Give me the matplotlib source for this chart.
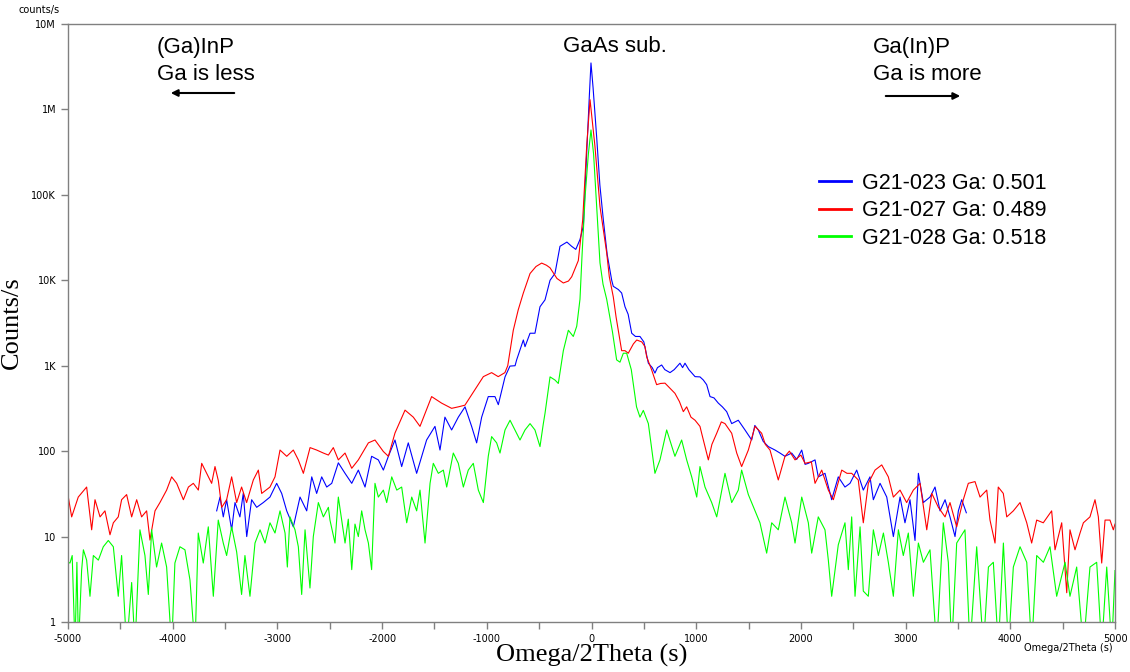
import numpy as np
import matplotlib
matplotlib.use("Agg")
import matplotlib.pyplot as plt
from matplotlib.ticker import FixedLocator, MultipleLocator

plt.rcParams["axes.unicode_minus"] = False

# values (omega/2theta in arcsec, counts/s)
blue_x = [-3580, -3548, -3517, -3485, -3437, -3405, -3358, -3326, -3293, -3246,
          -3198, -3135, -3071, -3007, -2959, -2911, -2848, -2784, -2720, -2672,
          -2625, -2577, -2529, -2481, -2418, -2354, -2290, -2227, -2163, -2100,
          -2036, -1988, -1940, -1877, -1813, -1750, -1670, -1575, -1495, -1447,
          -1400, -1336, -1272, -1208, -1145, -1097, -1049, -986, -922, -890,
          -826, -779, -730, -715, -651, -635, -587, -540, -492, -444,
          -396, -349, -301, -235, -190, -150, -110, -78, -46, -20,
          -5, 15, 49, 80, 113, 150, 193, 208, 256, 288,
          320, 350, 384, 420, 463, 500, 543, 580, 606, 630,
          654, 670, 700, 750, 790, 845, 870, 893, 930, 989,
          1036, 1068, 1100, 1132, 1170, 1211, 1250, 1291, 1339, 1402,
          1466, 1530, 1560, 1593, 1640, 1689, 1753, 1800, 1848, 1912,
          1960, 2008, 2040, 2071, 2135, 2166, 2230, 2294, 2357, 2421,
          2469, 2533, 2596, 2660, 2692, 2756, 2820, 2883, 2947, 2994,
          3042, 3090, 3122, 3169, 3233, 3281, 3329, 3377, 3424, 3472,
          3504, 3536, 3580]
blue_y = [20, 29, 17, 27, 12, 25, 17, 32, 10, 27,
          22, 25, 29, 42, 32, 20, 13, 29, 20, 50,
          32, 50, 38, 42, 73, 55, 42, 60, 38, 87,
          79, 60, 87, 135, 66, 125, 55, 135, 195, 103,
          250, 177, 250, 330, 195, 125, 250, 435, 435, 350,
          740, 990, 1000, 1170, 2000, 1670, 2400, 2400, 4900, 5900,
          10000, 12000, 25000, 28000, 25000, 23000, 30000, 43000, 310000, 1500000,
          3500000, 1800000, 480000, 130000, 51000, 20000, 10000, 8500, 7800, 7100,
          4900, 4000, 2400, 2200, 2200, 1900, 1070, 950, 820, 950,
          990, 1020, 900, 830, 900, 1070, 950, 1070, 900, 745,
          740, 680, 600, 435, 420, 365, 330, 290, 210, 230,
          177, 135, 200, 177, 130, 113, 103, 95, 87, 95,
          80, 103, 70, 72, 79, 50, 55, 27, 50, 38,
          42, 60, 35, 50, 27, 42, 29, 10, 29, 14.5,
          27, 9, 55, 25, 29, 38, 20, 27, 17, 10,
          20, 27, 19]

red_x = [-4997, -4965, -4902, -4822, -4774, -4742, -4694, -4647, -4599, -4567,
         -4520, -4488, -4440, -4392, -4344, -4297, -4249, -4217, -4169, -4122,
         -4058, -4010, -3962, -3898, -3850, -3803, -3755, -3723, -3675, -3628,
         -3596, -3564, -3532, -3485, -3437, -3389, -3342, -3294, -3230, -3182,
         -3150, -3071, -3023, -2975, -2911, -2848, -2800, -2752, -2688, -2625,
         -2561, -2513, -2466, -2418, -2354, -2290, -2227, -2131, -2068, -1988,
         -1940, -1877, -1781, -1702, -1638, -1527, -1432, -1336, -1272, -1209,
         -1113, -1033, -954, -891, -827, -800, -747, -700, -651, -587,
         -530, -476, -430, -396, -330, -269, -220, -189, -126, -84,
         -46, -14, 33, 81, 145, 170, 208, 235, 288, 320,
         351, 400, 432, 480, 511, 527, 575, 622, 660, 702,
         740, 797, 840, 877, 909, 950, 989, 1036, 1052, 1116,
         1150, 1196, 1240, 1275, 1339, 1387, 1434, 1498, 1562, 1625,
         1660, 1705, 1784, 1848, 1890, 1944, 2000, 2039, 2100, 2135,
         2199, 2262, 2310, 2390, 2440, 2485, 2548, 2596, 2644, 2708,
         2772, 2835, 2883, 2947, 3010, 3074, 3138, 3202, 3250, 3313,
         3377, 3424, 3488, 3551, 3599, 3663, 3711, 3775, 3806, 3854,
         3885, 3933, 3966, 4029, 4093, 4157, 4204, 4252, 4315, 4395,
         4427, 4491, 4539, 4570, 4618, 4666, 4698, 4761, 4809, 4841,
         4873, 4905, 4952, 4984, 5000]
red_y = [29, 17, 29, 38, 12, 27, 17, 20, 10.5, 14.5,
         17, 27, 31, 17, 27, 17, 20, 9.1, 20, 25,
         35, 50, 42, 27, 38, 42, 35, 72, 55, 42,
         66, 45, 22, 27, 50, 25, 38, 25, 46, 60,
         32, 38, 50, 103, 87, 103, 79, 55, 110, 103,
         95, 90, 110, 79, 95, 63, 79, 125, 135, 99,
         87, 163, 302, 250, 195, 435, 365, 317, 330, 345,
         525, 745, 830, 745, 830, 1000, 2600, 4500, 7100, 12000,
         14500, 15900, 15000, 14000, 10500, 9300, 9800, 11000, 17000, 51000,
         370000, 1300000, 370000, 73000, 21000, 11000, 6400, 3700, 1500, 1500,
         1400, 1800, 2000, 1900, 1670, 1270, 890, 600, 620, 625,
         560, 475, 380, 290, 330, 250, 230, 195, 162, 79,
         120, 162, 220, 210, 162, 95, 66, 103, 195, 162,
         120, 103, 46, 87, 100, 79, 90, 72, 75, 42,
         60, 35, 27, 60, 55, 55, 46, 14.5, 42, 60,
         69, 50, 29, 35, 25, 35, 42, 12, 32, 22,
         17, 25, 13, 27, 42, 44, 29, 35, 15.6, 8.4,
         38, 32, 17, 20, 25, 14.5, 8.4, 15.6, 14.5, 20,
         7, 14.5, 2.2, 12, 7, 11, 14.5, 17, 27, 17,
         4.9, 15.6, 15.6, 12, 14]

# 0.5 = zero counts (drops below the axis floor)
green_x = [-5000, -4981, -4960, -4933, -4915, -4900, -4870, -4853, -4822, -4790,
           -4758, -4710, -4663, -4615, -4567, -4520, -4488, -4440, -4392, -4360,
           -4313, -4265, -4233, -4201, -4154, -4106, -4058, -4010, -3979, -3931,
           -3883, -3835, -3787, -3756, -3708, -3660, -3612, -3565, -3517, -3485,
           -3437, -3389, -3342, -3310, -3262, -3214, -3166, -3118, -3071, -3023,
           -2975, -2927, -2905, -2880, -2832, -2800, -2768, -2736, -2689, -2657,
           -2609, -2561, -2513, -2498, -2450, -2418, -2354, -2323, -2290, -2259,
           -2227, -2195, -2163, -2131, -2100, -2068, -2036, -1988, -1956, -1908,
           -1860, -1813, -1765, -1717, -1670, -1638, -1590, -1542, -1511, -1463,
           -1415, -1383, -1320, -1272, -1224, -1177, -1129, -1081, -1033, -986,
           -954, -906, -874, -826, -778, -731, -683, -635, -587, -540,
           -492, -460, -444, -396, -349, -317, -269, -221, -174, -141,
           -110, -90, -60, -30, -5, 20, 49, 81, 110, 145,
           200, 240, 272, 304, 336, 380, 430, 463, 495, 543,
           606, 654, 718, 797, 861, 909, 957, 1005, 1036, 1084,
           1148, 1196, 1275, 1339, 1402, 1434, 1498, 1562, 1609, 1673,
           1721, 1784, 1848, 1912, 1944, 2008, 2071, 2103, 2166, 2230,
           2262, 2294, 2357, 2421, 2453, 2485, 2517, 2565, 2596, 2644,
           2692, 2740, 2788, 2835, 2883, 2931, 2978, 3026, 3074, 3122,
           3170, 3233, 3297, 3360, 3408, 3440, 3488, 3567, 3615, 3679,
           3743, 3791, 3838, 3886, 3934, 3982, 4029, 4093, 4157, 4204,
           4252, 4316, 4379, 4443, 4523, 4570, 4634, 4698, 4761, 4825,
           4873, 4921, 4969, 5000]
green_y = [5, 4.9, 6, 0.5, 5, 0.5, 4, 7, 5.3, 2,
           6, 5.3, 7.6, 9, 7.6, 2, 6, 0.5, 2.9, 0.5,
           12, 6, 2.1, 12, 4.4, 8.4, 4.4, 0.5, 4.9, 7.6,
           7, 3.1, 0.5, 11, 4.9, 13, 2, 15.6, 8.4, 6,
           13, 6.6, 2.1, 6, 2, 8.4, 12, 8.4, 14.5, 11,
           20, 11, 4.4, 17, 12, 7.6, 2.1, 12, 2.5, 10,
           25, 17, 22, 15.6, 8.4, 29, 8.4, 16, 4.1, 14,
           10, 20, 12, 8.4, 4.1, 42, 29, 35, 25, 50,
           35, 38, 14.5, 29, 20, 35, 8.4, 42, 72, 55,
           60, 38, 95, 72, 38, 60, 72, 35, 25, 87,
           148, 125, 95, 177, 230, 177, 135, 177, 210, 177,
           113, 210, 277, 740, 680, 620, 1500, 2600, 2200, 2900,
           6000, 20000, 100000, 300000, 575000, 300000, 73000, 16000, 9000, 6000,
           2500, 1170, 1100, 1400, 1400, 900, 330, 250, 300, 210,
           55, 79, 177, 87, 135, 79, 50, 29, 66, 38,
           25, 17, 55, 25, 35, 60, 31, 20, 14.5, 6.4,
           14.5, 12, 29, 14.5, 8.4, 29, 14.5, 6.4, 17, 12,
           5.3, 2, 8, 14.5, 4.1, 17, 2, 13, 2.3, 2,
           12, 6, 11, 5, 2, 12, 6, 11, 2, 8.4,
           5, 7, 0.5, 14.5, 5, 0.5, 8.4, 12, 0.5, 7.6,
           0.5, 4.4, 5, 0.5, 8.4, 0.5, 4.4, 7.6, 5, 0.5,
           6, 5, 7.6, 2, 5, 2, 4.4, 0.5, 4.4, 5,
           0.5, 4.4, 0.5, 4]

labels = ["G21-023 Ga: 0.501", "G21-027 Ga: 0.489", "G21-028 Ga: 0.518"]
ytick_vals = [1, 10, 100, 1e3, 1e4, 1e5, 1e6, 1e7]
ytick_text = ["1", "10", "100", "1K", "10K", "100K", "1M", "10M"]

W, H = 1130, 672
fig = plt.figure(figsize=(W / 100, H / 100), dpi=100)
ax = fig.add_axes([68 / W, 1 - 622 / H, (1115 - 68) / W, (622 - 24) / H])

ax.plot(blue_x, blue_y, color="#0000ff", lw=0.8, label=labels[0])
ax.plot(red_x, red_y, color="#ff0000", lw=0.8, label=labels[1])
ax.plot(green_x, green_y, color="#00ff00", lw=0.8, label=labels[2])

ax.set_yscale("log")
ax.set_xlim(-5000, 5000)
ax.set_ylim(1, 1e7)
ax.yaxis.set_major_locator(FixedLocator(ytick_vals))
ax.set_yticklabels(ytick_text)
ax.yaxis.set_minor_locator(FixedLocator([]))
ax.xaxis.set_major_locator(MultipleLocator(1000))
ax.xaxis.set_minor_locator(MultipleLocator(500))
ax.tick_params(which="both", direction="out", colors="#808080", labelcolor="black",
               labelsize=7, length=5, width=1)
for s in ax.spines.values():
    s.set_color("#808080")
    s.set_linewidth(1)

ax.set_xlabel("Omega/2Theta (s)", family="Liberation Serif", fontsize=19, labelpad=0)
ax.set_ylabel("Counts/s", family="Liberation Serif", fontsize=19)
ax.yaxis.set_label_coords((23 - 68) / (1115 - 68), 0.5)

fig.text(60 / W, 1 - 10 / H, "counts/s", fontsize=7, ha="right", va="center")
fig.text(1113 / W, 1 - 648 / H, "Omega/2Theta (s)", fontsize=7, ha="right", va="center")

sans = "Liberation Sans"
fig.text(157 / W, 1 - 48 / H, "(Ga)InP", family=sans, fontsize=16, va="center")
fig.text(157 / W, 1 - 75 / H, "Ga is less", family=sans, fontsize=16, va="center")
fig.text(615 / W, 1 - 47 / H, "GaAs sub.", family=sans, fontsize=16, va="center", ha="center")
fig.text(873 / W, 1 - 48 / H, "Ga(In)P", family=sans, fontsize=16, va="center")
fig.text(873 / W, 1 - 75 / H, "Ga is more", family=sans, fontsize=16, va="center")

arrow = dict(arrowstyle="-|>", color="black", lw=1.5, mutation_scale=10)
ax.annotate("", xy=(168 / W, 1 - 93 / H), xytext=(237 / W, 1 - 93 / H),
            xycoords="figure fraction", textcoords="figure fraction", arrowprops=arrow)
ax.annotate("", xy=(963 / W, 1 - 96 / H), xytext=(883 / W, 1 - 96 / H),
            xycoords="figure fraction", textcoords="figure fraction", arrowprops=arrow)

leg = ax.legend(loc="upper left", bbox_to_anchor=((810 - 68) / (1115 - 68), (622 - 164) / (622 - 24)),
                frameon=False, prop={"family": sans, "size": 15.5},
                handlelength=1.5, handletextpad=0.5, labelspacing=0.3, borderaxespad=0)
for line in leg.get_lines():
    line.set_linewidth(2)

fig.savefig("out.png", dpi=100)
